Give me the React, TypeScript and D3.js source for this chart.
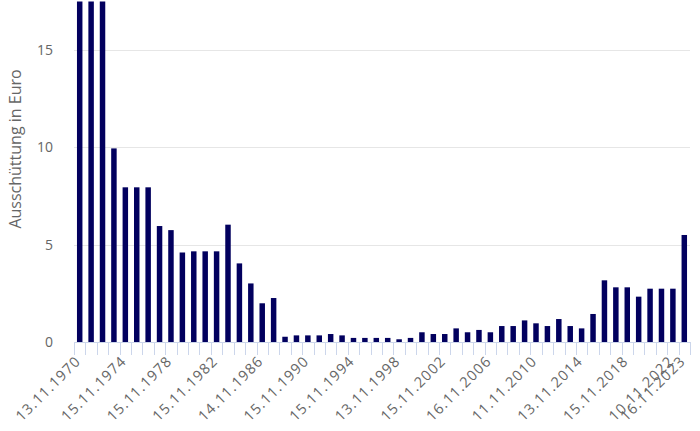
import React, { useRef, useEffect } from "react";
import * as d3 from "d3";

// Ausschüttung per distribution date (Euro); first three bars run off the chart top
const dates = [
  "13.11.1970", "1971", "1972", "1973", "15.11.1974", "1975", "1976", "1977",
  "15.11.1978", "1979", "1980", "1981", "15.11.1982", "1983", "1984", "1985",
  "14.11.1986", "1987", "1988", "1989", "15.11.1990", "1991", "1992", "1993",
  "15.11.1994", "1995", "1996", "1997", "13.11.1998", "1999", "2000", "2001",
  "15.11.2002", "2003", "2004", "2005", "16.11.2006", "2007", "2008", "2009",
  "11.11.2010", "2011", "2012", "2013", "13.11.2014", "2015", "2016", "2017",
  "15.11.2018", "2019", "2020", "2021", "10.11.2022", "16.11.2023",
];
const payouts = [
  20.5, 20.5, 20.5, 9.95, 7.95, 7.95, 7.95, 5.96,
  5.75, 4.6, 4.66, 4.66, 4.66, 6.03, 4.04, 3.01,
  1.99, 2.26, 0.27, 0.34, 0.34, 0.34, 0.41, 0.34,
  0.21, 0.21, 0.21, 0.21, 0.14, 0.21, 0.5, 0.41,
  0.41, 0.7, 0.5, 0.62, 0.5, 0.82, 0.82, 1.11,
  0.96, 0.82, 1.18, 0.82, 0.7, 1.44, 3.17, 2.81,
  2.81, 2.33, 2.74, 2.74, 2.74, 5.5,
];
const yTicks = [0, 5, 10, 15];
const labelEvery = 4;

const App: React.FC = () => {
  const ref = useRef<SVGSVGElement>(null);

  useEffect(() => {
    if (!ref.current) return;
    const svg = d3.select(ref.current);
    svg.selectAll("*").remove();

    const left = 74, right = 690, top = 1.5, bottom = 342;
    const font = "'Open Sans', sans-serif";

    const x = d3.scaleBand<number>()
      .domain(d3.range(dates.length))
      .range([left, right])
      .paddingInner(0.52)
      .paddingOuter(0.26);
    const y = d3.scaleLinear().domain([0, 17.5]).range([bottom, top]);
    const step = x.step();

    svg.append("defs").append("clipPath").attr("id", "plot")
      .append("rect")
      .attr("x", left).attr("y", top)
      .attr("width", right - left).attr("height", bottom - top);

    // grid
    svg.append("g").selectAll("line")
      .data(yTicks.filter((t) => t > 0))
      .join("line")
      .attr("x1", left).attr("x2", right)
      .attr("y1", (d) => Math.round(y(d)) + 0.5)
      .attr("y2", (d) => Math.round(y(d)) + 0.5)
      .attr("stroke", "#e6e6e6");

    // y labels
    svg.append("g").selectAll("text")
      .data(yTicks)
      .join("text")
      .attr("x", 53)
      .attr("y", (d) => y(d) + 5)
      .attr("text-anchor", "end")
      .attr("font-family", font)
      .attr("font-size", 14)
      .attr("fill", "#666")
      .text((d) => d);

    svg.append("text")
      .attr("transform", "translate(21,149) rotate(-90)")
      .attr("text-anchor", "middle")
      .attr("font-family", font)
      .attr("font-size", 16)
      .attr("fill", "#666")
      .text("Ausschüttung in Euro");

    // bars
    svg.append("g").attr("clip-path", "url(#plot)")
      .selectAll("rect")
      .data(payouts)
      .join("rect")
      .attr("x", (_, i) => x(i)!)
      .attr("width", x.bandwidth())
      .attr("y", (d) => y(d))
      .attr("height", (d) => bottom - y(d))
      .attr("fill", "#02005e");

    // x axis line + ticks between categories
    const tickXs = dates.map((_, i) => x(i)! - (step * 0.52) / 2).concat([right]);
    svg.append("line")
      .attr("x1", left).attr("x2", right)
      .attr("y1", bottom + 0.5).attr("y2", bottom + 0.5)
      .attr("stroke", "#ccd6eb");
    svg.append("g").selectAll("line")
      .data(tickXs)
      .join("line")
      .attr("x1", (d) => Math.round(d) + 0.5)
      .attr("x2", (d) => Math.round(d) + 0.5)
      .attr("y1", bottom).attr("y2", bottom + 13)
      .attr("stroke", "#ccd6eb");

    // x labels
    svg.append("g").selectAll("text")
      .data(dates.map((d, i) => ({ d, i })).filter((o) => o.i % labelEvery === 0 || o.i === dates.length - 1))
      .join("text")
      .attr("transform", (o) => `translate(${x(o.i)! + x.bandwidth() / 2 + 2},362) rotate(-45)`)
      .attr("text-anchor", "end")
      .attr("font-family", font)
      .attr("font-size", 14.5)
      .attr("letter-spacing", 1.1)
      .attr("fill", "#666")
      .text((o) => o.d);
  }, []);

  return (
    <svg
      ref={ref}
      width={700}
      height={431}
      style={{ position: "absolute", left: 0, top: 0, background: "#fff" }}
    />
  );
};

export default App;
